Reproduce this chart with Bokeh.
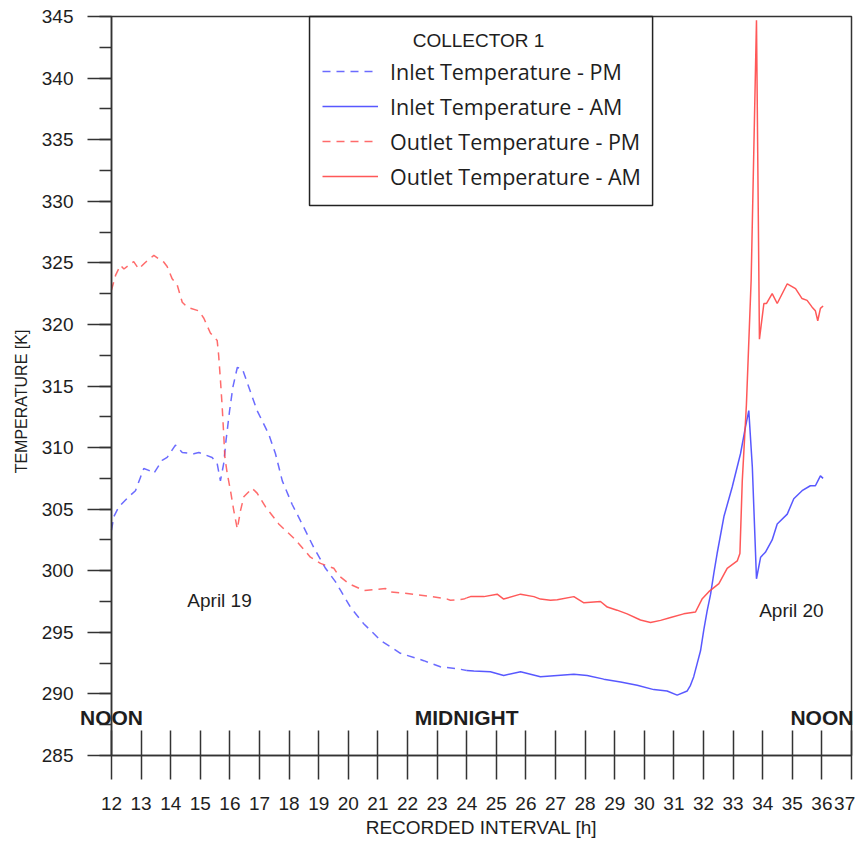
import math
from bokeh.plotting import figure
from bokeh.models import (Range1d, SingleIntervalTicker, Legend, LegendItem,
                          Label, BoxAnnotation)
from bokeh.embed import file_html
from bokeh.resources import INLINE

# ---------------- data ----------------
outlet_pm_x = [12.0, 12.14, 12.3, 12.42, 12.75, 12.92, 13.15, 13.43, 13.77, 13.88,
               14.05, 14.22, 14.39, 14.56, 14.95, 15.12, 15.34, 15.57, 15.62, 15.68,
               15.74, 15.79, 15.83, 15.91, 16.02, 16.13, 16.25, 16.36, 16.47, 16.75,
               16.92, 17.2, 17.65, 18.22, 18.72, 19.06, 19.51, 19.68, 20.02, 20.52,
               21.26, 21.37, 21.99, 22.67, 23.34, 23.45, 23.9, 24.0]
outlet_pm_y = [322.8, 324.0, 324.8, 324.5, 325.1, 324.5, 325.05, 325.6, 325.05, 324.7,
               323.7, 323.2, 321.8, 321.4, 321.1, 320.5, 319.3, 318.7, 317.5, 315.5,
               313.3, 311.1, 309.2, 307.9, 306.5, 304.9, 303.4, 304.9, 306.0, 306.7,
               306.3, 305.2, 303.8, 302.5, 301.1, 300.6, 300.2, 299.6, 298.95, 298.4,
               298.55, 298.3, 298.15, 297.95, 297.7, 297.6, 297.7, 297.8]

outlet_am_x = [24.0, 24.13, 24.58, 25.03, 25.25, 25.82, 26.27, 26.49, 26.83, 27.06,
               27.62, 27.96, 28.52, 28.75, 29.08, 29.42, 29.87, 30.21, 30.55, 30.89,
               31.33, 31.73, 31.95, 32.18, 32.52, 32.8, 33.14, 33.23, 33.31, 33.45,
               33.61, 33.79, 33.89, 34.04, 34.13, 34.32, 34.49, 34.83, 35.11, 35.33,
               35.5, 35.67, 35.78, 35.86, 35.95, 36.04]
outlet_am_y = [297.8, 297.9, 297.9, 298.1, 297.7, 298.1, 297.9, 297.7, 297.6, 297.65,
               297.9, 297.4, 297.5, 297.05, 296.8, 296.5, 296.0, 295.8, 295.97, 296.2,
               296.5, 296.65, 297.7, 298.3, 298.95, 300.2, 300.8, 301.4, 307.3, 313.5,
               323.6, 344.7, 318.8, 321.7, 321.7, 322.5, 321.7, 323.3, 322.9, 322.1,
               321.95, 321.4, 321.1, 320.3, 321.3, 321.5]

inlet_pm_x = [12.0, 12.08, 12.25, 12.58, 12.81, 12.98, 13.09, 13.26, 13.43, 13.71,
              13.88, 14.16, 14.39, 14.78, 14.95, 15.4, 15.57, 15.68, 15.79, 15.87,
              15.99, 16.1, 16.25, 16.42, 16.64, 16.92, 17.31, 17.54, 17.77, 18.1,
              18.44, 18.83, 19.23, 19.57, 19.74, 20.07, 20.52, 21.09, 21.76, 22.55,
              23.11, 23.68, 24.0]
inlet_pm_y = [303.3, 304.4, 305.2, 306.0, 306.5, 307.6, 308.3, 308.15, 307.9, 308.96,
              309.2, 310.2, 309.6, 309.5, 309.6, 309.2, 308.7, 307.3, 308.7, 310.6,
              313.0, 314.9, 316.5, 316.4, 314.9, 313.0, 311.1, 309.5, 307.3, 305.4,
              303.8, 301.9, 300.2, 299.1, 298.4, 297.05, 295.7, 294.35, 293.3, 292.7,
              292.2, 292.05, 291.9]

inlet_am_x = [24.0, 24.24, 24.8, 25.25, 25.82, 26.49, 27.06, 27.62, 28.07, 28.63,
              29.2, 29.76, 30.32, 30.77, 31.11, 31.45, 31.56, 31.67, 31.79, 31.9,
              32.01, 32.12, 32.24, 32.35, 32.46, 32.69, 32.97, 33.25, 33.42, 33.53,
              33.65, 33.79, 33.93, 34.09, 34.32, 34.49, 34.83, 35.05, 35.33, 35.61,
              35.78, 35.95, 36.04]
inlet_am_y = [291.9, 291.86, 291.8, 291.5, 291.8, 291.4, 291.5, 291.6, 291.5, 291.2,
              290.97, 290.7, 290.35, 290.24, 289.9, 290.24, 290.7, 291.4, 292.5, 293.5,
              295.2, 296.7, 298.1, 299.8, 301.4, 304.4, 306.8, 309.5, 311.7, 313.0,
              308.4, 299.35, 301.1, 301.5, 302.5, 303.8, 304.6, 305.85, 306.5, 306.9,
              306.9, 307.7, 307.5]

series_labels = ["Inlet Temperature - PM", "Inlet Temperature - AM",
                 "Outlet Temperature - PM", "Outlet Temperature - AM"]
legend_title = "COLLECTOR 1"
x_axis_title = "RECORDED INTERVAL [h]"
y_axis_title = "TEMPERATURE [K]"
x_bounds = (12, 37)
y_bounds = (285, 345)
time_marks = ["NOON", "MIDNIGHT", "NOON"]
time_mark_x = [12, 24, 36]
date_labels = ["April 19", "April 20"]

BLUE = "#4646ff"
RED = "#ff4646"
INK = "#1e1e1e"
AXC = "#333333"
FONT = "Liberation Sans"

# ---------------- layout geometry (pixels) ----------------
W, H = 860, 841
AX_L, AX_R, AX_T, AX_B = 111, 851, 16, 755      # where the axes box sits
xs = (AX_R - AX_L) / (x_bounds[1] - x_bounds[0])  # px per hour
ys = (AX_B - AX_T) / (y_bounds[1] - y_bounds[0])  # px per kelvin

x_range = Range1d(x_bounds[0] - AX_L / xs, x_bounds[1] + (W - AX_R) / xs)
y_range = Range1d(y_bounds[0] - (H - AX_B) / ys, y_bounds[1] + AX_T / ys)

p = figure(width=W, height=H, output_backend="svg", toolbar_location=None,
           x_range=x_range, y_range=y_range,
           min_border_left=0, min_border_right=0, min_border_top=0,
           min_border_bottom=0)
p.xgrid.visible = False
p.ygrid.visible = False
p.outline_line_color = None
p.background_fill_color = "white"
p.border_fill_color = "white"

xa = p.xaxis[0]
xa.fixed_location = y_bounds[0]
xa.bounds = x_bounds
xa.ticker = SingleIntervalTicker(interval=1, num_minor_ticks=0)
xa.major_tick_in = 25
xa.major_tick_out = 24
xa.minor_tick_in = 0
xa.minor_tick_out = 0
xa.major_label_standoff = 13
xa.major_label_overrides = {37: "37\u00a0"}
xa.axis_label = x_axis_title
xa.axis_label_standoff = 0
xa.axis_label_text_font = FONT
xa.axis_label_text_font_style = "normal"
xa.axis_label_text_font_size = "19px"
xa.axis_label_text_color = INK
xa.major_label_text_font = FONT
xa.major_label_text_font_size = "19px"
xa.major_label_text_color = INK
xa.axis_line_color = AXC
xa.axis_line_width = 1.5
xa.major_tick_line_color = AXC
xa.major_tick_line_width = 1.5

ya = p.yaxis[0]
ya.fixed_location = x_bounds[0]
ya.bounds = y_bounds
ya.ticker = SingleIntervalTicker(interval=5, num_minor_ticks=2)
ya.major_tick_in = 0
ya.major_tick_out = 24
ya.minor_tick_in = 0
ya.minor_tick_out = 12
ya.major_label_standoff = 14
ya.major_label_text_font = FONT
ya.major_label_text_font_size = "19px"
ya.major_label_text_color = INK
ya.axis_line_color = AXC
ya.axis_line_width = 1.5
ya.major_tick_line_color = AXC
ya.major_tick_line_width = 1.5
ya.minor_tick_line_color = AXC
ya.minor_tick_line_width = 1.5

# y-axis title (placed a little below the axis centre, as in the original)
p.add_layout(Label(x=x_bounds[0] - 90 / xs, y=y_bounds[1] - (401 - AX_T) / ys,
                   text=y_axis_title, angle=math.pi / 2, text_align="center",
                   text_baseline="middle", text_font=FONT,
                   text_font_size="16px", text_color=INK))

# box around the plotting area (top and right edges)
p.add_layout(BoxAnnotation(left=x_bounds[0], right=x_bounds[1],
                           bottom=y_bounds[0], top=y_bounds[1],
                           fill_color=None, fill_alpha=0, line_color=AXC,
                           line_width=1.5, line_alpha=1.0))

r_in_pm = p.line(inlet_pm_x, inlet_pm_y, line_color=BLUE, line_width=1.5,
                 line_dash="8 6", line_alpha=0.8)
r_in_am = p.line(inlet_am_x, inlet_am_y, line_color=BLUE, line_width=1.5,
                 line_alpha=0.9)
r_out_pm = p.line(outlet_pm_x, outlet_pm_y, line_color=RED, line_width=1.5,
                  line_dash="8 6", line_alpha=0.8)
r_out_am = p.line(outlet_am_x, outlet_am_y, line_color=RED, line_width=1.5,
                  line_alpha=0.9)

legend = Legend(
    items=[LegendItem(label=series_labels[0], renderers=[r_in_pm]),
           LegendItem(label=series_labels[1], renderers=[r_in_am]),
           LegendItem(label=series_labels[2], renderers=[r_out_pm]),
           LegendItem(label=series_labels[3], renderers=[r_out_am])],
    location=(312, 640), glyph_width=56, glyph_height=30, label_height=30,
    spacing=5, padding=10, label_standoff=12,
    label_text_font="Open Sans", label_text_font_size="21.5px",
    label_text_color=INK, border_line_alpha=0, background_fill_alpha=0)
p.add_layout(legend)

# legend frame and title
p.add_layout(BoxAnnotation(left=18.69, right=30.28, bottom=329.66, top=345,
                           fill_color=None, fill_alpha=0, line_color="#222222",
                           line_width=1.5, line_alpha=1.0))
p.add_layout(Label(x=24.4, y=343.05, text=legend_title, text_align="center",
                   text_baseline="middle", text_font=FONT,
                   text_font_size="19px", text_color=INK))

for t, xm in zip(time_marks, time_mark_x):
    p.add_layout(Label(x=xm, y=288.1, text=t, text_align="center",
                       text_baseline="middle", text_font=FONT,
                       text_font_style="bold", text_font_size="21px",
                       text_color=INK))

p.add_layout(Label(x=15.65, y=297.6, text=date_labels[0], text_align="center",
                   text_baseline="middle", text_font=FONT,
                   text_font_size="19px", text_color=INK))
p.add_layout(Label(x=34.97, y=296.8, text=date_labels[1], text_align="center",
                   text_baseline="middle", text_font=FONT,
                   text_font_size="19px", text_color=INK))

open("out.html", "w").write(file_html(p, INLINE))
